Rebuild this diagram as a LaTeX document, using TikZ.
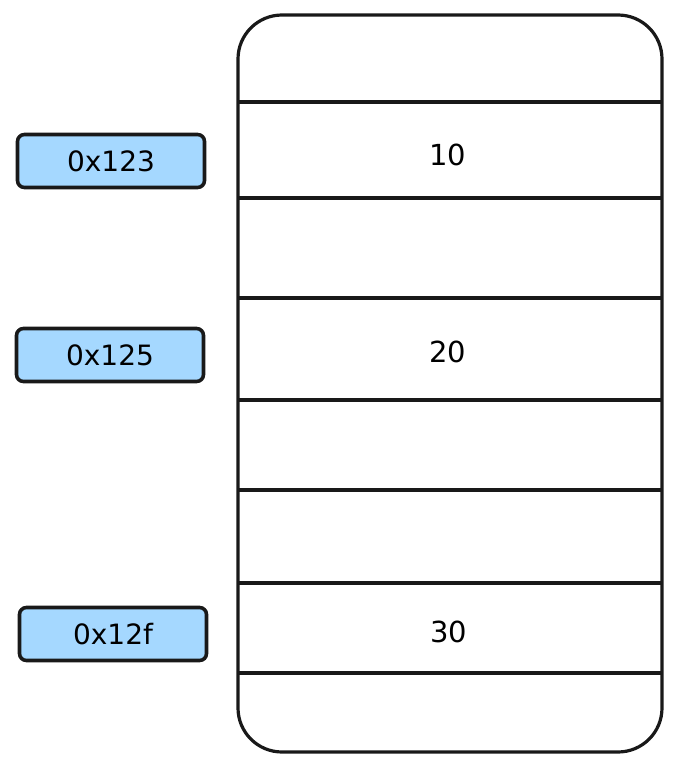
\documentclass[tikz,border=0pt]{standalone}
\usepackage{fontspec}
\setmainfont{DejaVu Sans}
\begin{document}
\begin{tikzpicture}[x=1pt,y=-1pt,
  addr/.style={draw=black!90, line width=3.6pt, rounded corners=7pt,
    minimum width=187pt, minimum height=53pt, inner sep=0pt, font=\fontsize{28}{32}\selectfont},
  val/.style={font=\fontsize{29}{32}\selectfont, inner sep=0pt},
  memline/.style={line width=3.2pt, draw=black!90}]
\definecolor{lblue}{HTML}{A5D8FF}
\useasboundingbox (0,0) rectangle (680,768);
% memory block
\draw[memline, rounded corners=44pt] (238,15) rectangle (662,752);
\foreach \y [count=\i] in {102,198,298,400,490,583,673}
  \draw[memline] (238,\y) coordinate (l\i) -- (662,\y) coordinate (r\i);
% values
\node[val] (v10) at (448,155) {10};
\node[val] (v20) at (448,352) {20};
\node[val] (v30) at (449,632) {30};
% addresses
\node[addr, fill=lblue] (a123) at (111,161) {0x123};
\node[addr, fill=lblue] (a125) at (110,355) {0x125};
\node[addr, fill=lblue] (a12f) at (113,634) {0x12f};
\end{tikzpicture}
\end{document}
